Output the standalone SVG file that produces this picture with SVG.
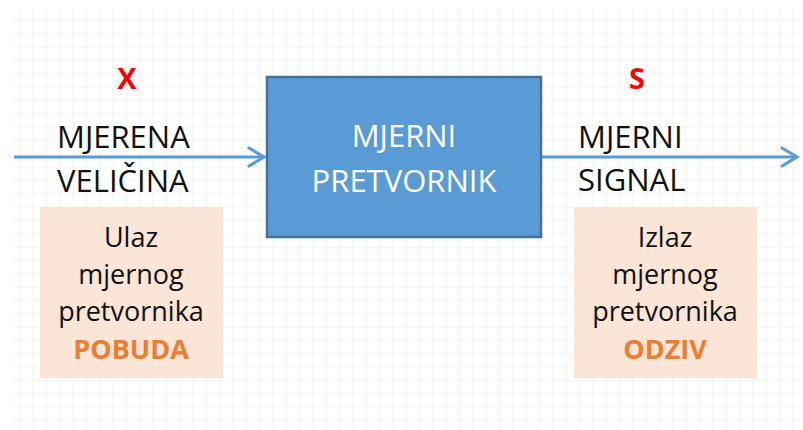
<svg xmlns="http://www.w3.org/2000/svg" width="803" height="430" viewBox="0 0 803 430">
  <defs>
    <pattern id="grid" patternUnits="userSpaceOnUse" x="19.3" y="20" width="13.33" height="13.33">
      <path d="M0,0 V13.33 M0,0 H13.33" fill="none" stroke="#efefef" stroke-width="1.6"/>
    </pattern>
    <marker id="open" markerUnits="userSpaceOnUse" markerWidth="20" markerHeight="24" refX="16" refY="10" orient="auto" overflow="visible">
      <path d="M1,1 L16,10 L1,19" fill="none" stroke="#5b9bd5" stroke-width="3.2" stroke-linecap="round" stroke-linejoin="miter"/>
    </marker>
    <style>
      .cap { font-family: "Open Sans", "Liberation Sans", sans-serif; font-size: 31px; fill: #111; }
      .lbl { font-family: "Open Sans", "Liberation Sans", sans-serif; font-size: 27px; fill: #111; text-anchor: middle; }
      .var { font-family: "Open Sans", "Liberation Sans", sans-serif; font-size: 29px; font-weight: bold; fill: #ff0000; text-anchor: middle; }
      .acc { font-weight: bold; fill: #ed7d31; }
      .pink { fill: #fbe5d6; }
      .conn { stroke: #5b9bd5; stroke-width: 3; fill: none; }
      .white { fill: #ffffff; }
    </style>
  </defs>
  <rect x="0" y="0" width="803" height="430" fill="#ffffff"/>
  <rect x="14" y="8" width="789" height="422" fill="url(#grid)"/>

  <g id="connectors">
    <line class="conn" x1="14" y1="157" x2="264" y2="157" marker-end="url(#open)"/>
    <line class="conn" x1="542" y1="157" x2="797" y2="157" marker-end="url(#open)"/>
  </g>

  <g id="converter">
    <rect x="267" y="77" width="274" height="160" fill="#5b9bd5" stroke="#41719c" stroke-width="2.5"/>
    <text class="cap white" x="404" y="147" text-anchor="middle">MJERNI</text>
    <text class="cap white" x="404" y="192" text-anchor="middle">PRETVORNIK</text>
  </g>

  <g id="input-label">
    <text class="var" x="127" y="89">X</text>
    <text class="cap" x="57" y="148">MJERENA</text>
    <text class="cap" x="57" y="192">VELIČINA</text>
  </g>

  <g id="output-label">
    <text class="var" x="637" y="89">S</text>
    <text class="cap" x="578" y="148">MJERNI</text>
    <text class="cap" x="578" y="191">SIGNAL</text>
  </g>

  <g id="input-box">
    <rect class="pink" x="40" y="207" width="183" height="171"/>
    <text class="lbl" x="131" y="247">Ulaz</text>
    <text class="lbl" x="131" y="284">mjernog</text>
    <text class="lbl" x="131" y="321">pretvornika</text>
    <text class="lbl acc" x="131" y="359">POBUDA</text>
  </g>

  <g id="output-box">
    <rect class="pink" x="574" y="207" width="183" height="171"/>
    <text class="lbl" x="665" y="247">Izlaz</text>
    <text class="lbl" x="665" y="284">mjernog</text>
    <text class="lbl" x="665" y="321">pretvornika</text>
    <text class="lbl acc" x="665" y="359">ODZIV</text>
  </g>
</svg>
